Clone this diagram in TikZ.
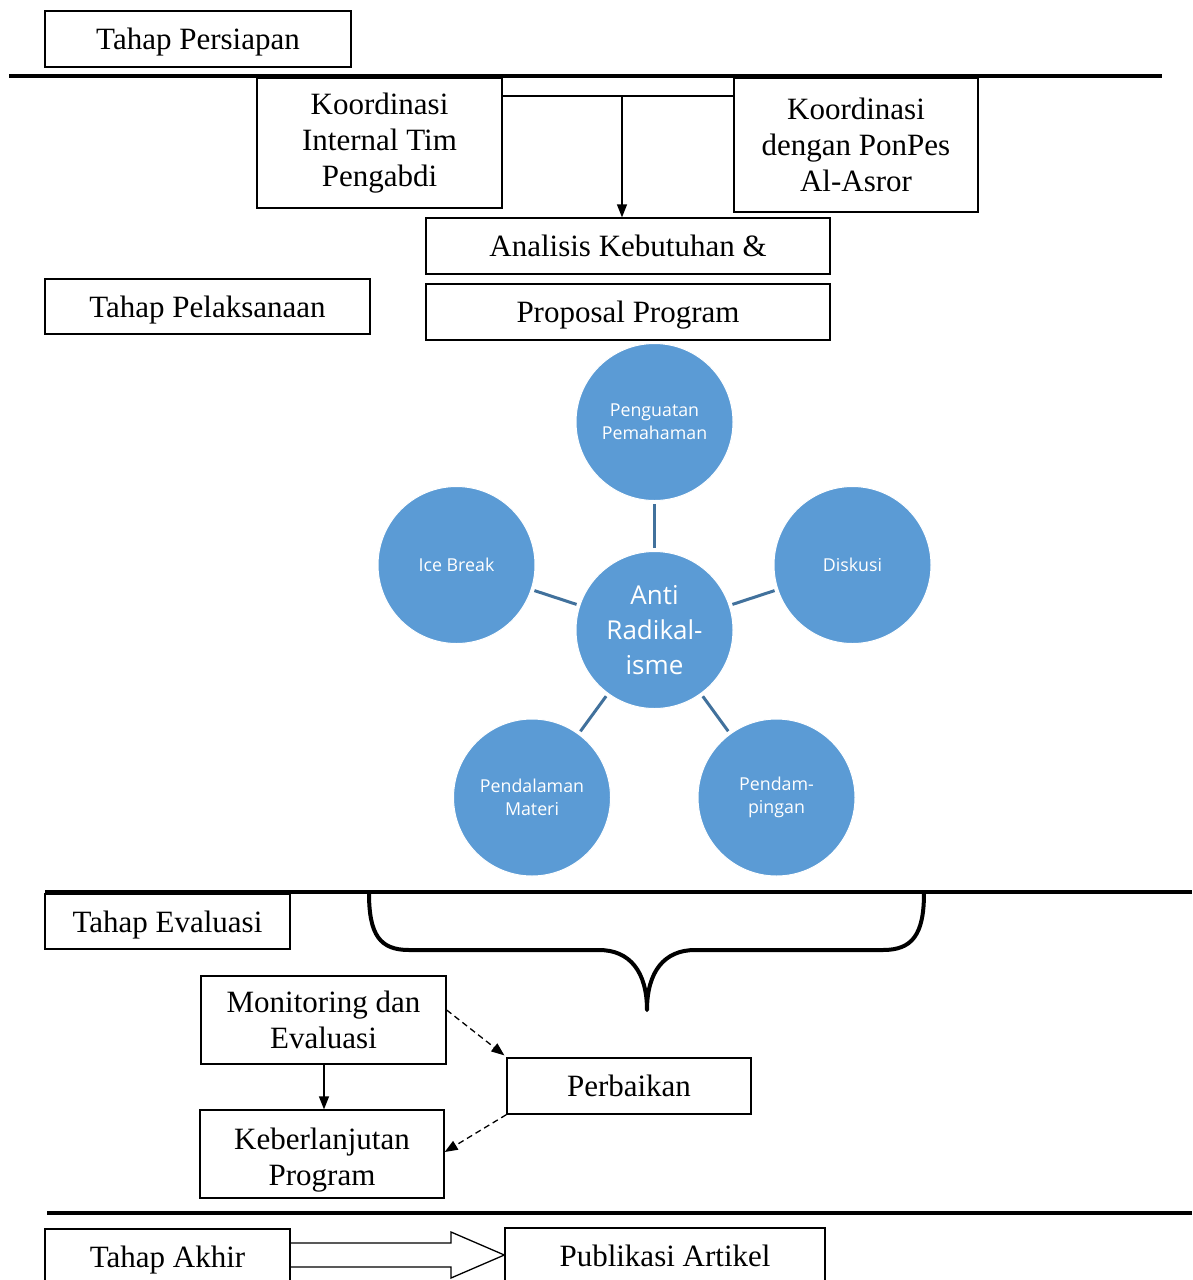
\documentclass[tikz,border=0pt]{standalone}
\usepackage{fontspec}
\setmainfont{Liberation Serif}
\newfontfamily\osans{Open Sans}
\usetikzlibrary{arrows.meta,calc}
\definecolor{circblue}{HTML}{5B9BD5}
\definecolor{spokeblue}{HTML}{41719C}
\begin{document}
\begin{tikzpicture}[x=1pt,y=-1pt,
 box/.style={draw, line width=1.3pt, inner sep=0pt, align=center, font=\fontsize{31}{36}\selectfont},
 onebox/.style={box, text depth=0pt},
 bubble/.style={circle, fill=circblue, draw=white, line width=1pt, minimum size=157pt, inner sep=0pt, align=center, text=white, font=\osans\fontsize{17.8}{23}\selectfont},
 spoke/.style={draw=spokeblue, line width=3pt, shorten <=3pt, shorten >=3pt},
 phaseline/.style={line width=4pt},
 arr/.style={line width=1.3pt, -{Triangle[length=13pt,width=10pt]}},
 darr/.style={arr, dash pattern=on 6pt off 4pt}
]
\useasboundingbox (0,0) rectangle (1192,1280);
\clip (0,0) rectangle (1192,1280);

% phase separators
\draw[phaseline] (9,76) -- (1162,76);
\draw[phaseline] (45,892) -- (1192,892);
\draw[phaseline] (47,1213) -- (1192,1213);

% preparation
\node[onebox, minimum width=306pt, minimum height=56pt] (persiapan) at (198,39) {Tahap Persiapan};
\node[box, minimum width=245pt, minimum height=130pt] (koord1) at (379.5,143) {Koordinasi\\Internal Tim\\Pengabdi};
\node[box, minimum width=244pt, minimum height=134pt] (koord2) at (856,145) {Koordinasi\\dengan PonPes\\Al-Asror};
\node[onebox, minimum width=404pt, minimum height=56pt] (analisis) at (628,246) {Analisis Kebutuhan \&};
\node[onebox, minimum width=404pt, minimum height=56pt] (proposal) at (628,312) {Proposal Program};
\coordinate (j) at (622,96);
\draw[line width=1.3pt] (koord1.east |- j) -- (koord2.west |- j);
\draw[arr] (j) -- (analisis.north -| j);

% implementation
\node[onebox, minimum width=325pt, minimum height=55pt] (pelaksanaan) at (207.5,306.5) {Tahap Pelaksanaan};
\node[bubble, font=\osans\fontsize{26}{35}\selectfont] (c) at (654.5,630) {Anti\\Radikal-\\isme};
\node[bubble] (top) at (654.5,422) {Penguatan\\Pemahaman};
\node[bubble] (left) at (456.5,565) {Ice Break};
\node[bubble] (right) at (852.5,565) {Diskusi};
\node[bubble] (bl) at (532,797.5) {Pendalaman\\Materi};
\node[bubble] (br) at (776.5,797.5) {Pendam-\\pingan};
\draw[spoke] (c) -- (top);
\draw[spoke] (c) -- (left);
\draw[spoke] (c) -- (right);
\draw[spoke] (c) -- (bl);
\draw[spoke] (c) -- (br);

% evaluation
\node[onebox, minimum width=245pt, minimum height=55pt] (evaluasi) at (167.5,921.5) {Tahap Evaluasi};
\draw[line width=4pt, line join=round, line cap=round]
  (369,893) .. controls (369,935) and (380,950) .. (409,950) -- (599,950)
  .. controls (630,950) and (647,972) .. (647,1010)
  .. controls (647,972) and (664,950) .. (695,950) -- (883,950)
  .. controls (912,950) and (924,935) .. (924,893);
\node[box, minimum width=245pt, minimum height=88pt] (monitoring) at (323.5,1020) {Monitoring dan\\Evaluasi};
\node[onebox, minimum width=244pt, minimum height=56pt] (perbaikan) at (629,1086) {Perbaikan};
\node[box, minimum width=244pt, minimum height=88pt] (keberlanjutan) at (322,1154) {\rule{0pt}{33pt}Keberlanjutan\\Program};
\draw[arr] (monitoring.south -| 324,0) -- (keberlanjutan.north -| 324,0);
\draw[darr] ($(monitoring.east)+(0,-10)$) -- ($(perbaikan.north west)+(-2,-2)$);
\draw[darr] (perbaikan.south west) -- ($(keberlanjutan.east)+(0,-2)$);

% final
\node[box, minimum width=245pt, minimum height=62pt] (akhir) at (167.5,1260) {Tahap Akhir};
\node[box, text depth=6pt, minimum width=320pt, minimum height=62pt] (publikasi) at (665,1259) {Publikasi Artikel};
\draw[line width=1.3pt, line join=miter]
  (akhir.east |- 0,1243) -- (451,1243) -- (451,1232) -- (publikasi.west |- 0,1255)
  -- (451,1278) -- (451,1267) -- (akhir.east |- 0,1267);
\end{tikzpicture}
\end{document}
